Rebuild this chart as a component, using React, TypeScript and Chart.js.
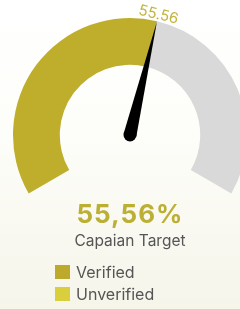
import React, { useEffect, useRef } from "react";
import { Chart, registerables } from "chart.js";

Chart.register(...registerables);

const gaugeValue = 55.56;
const gaugeMax = 100;
const arcLabels = ["Capaian", "Sisa"];
const arcValues = [gaugeValue, gaugeMax - gaugeValue];
const arcColors = ["#bfae2c", "#d9d9d9"];
const legendLabels = ["Verified", "Unverified"];
const legendColors = ["#bda92b", "#d9cf3c"];
const subtitle = "Capaian Target";

const FONT = "Inter, 'Noto Sans', sans-serif";

const needlePlugin = {
  id: "needle",
  afterDatasetsDraw(chart: any) {
    const meta = chart.getDatasetMeta(0);
    const arc: any = meta.data[0];
    if (!arc) return;
    const { x, y, outerRadius, endAngle } = arc.getProps(["x", "y", "outerRadius", "endAngle"], true);
    const ctx = chart.ctx;
    const a = endAngle;
    const len = outerRadius;
    const base = 6.5;
    ctx.save();
    ctx.fillStyle = "#000";
    ctx.beginPath();
    ctx.moveTo(x + Math.cos(a) * len, y + Math.sin(a) * len);
    ctx.lineTo(x + Math.cos(a + Math.PI / 2) * base, y + Math.sin(a + Math.PI / 2) * base);
    ctx.lineTo(x + Math.cos(a - Math.PI / 2) * base, y + Math.sin(a - Math.PI / 2) * base);
    ctx.closePath();
    ctx.fill();
    ctx.beginPath();
    ctx.arc(x, y, base, 0, Math.PI * 2);
    ctx.fill();
    // value label at needle tip
    const r = outerRadius + 2;
    ctx.translate(x + Math.cos(a) * r, y + Math.sin(a) * r);
    ctx.rotate(a + Math.PI / 2);
    ctx.font = `15px ${FONT}`;
    ctx.fillStyle = "#c2b43a";
    ctx.textAlign = "center";
    ctx.textBaseline = "alphabetic";
    ctx.fillText(String(gaugeValue), 0, 0);
    ctx.restore();
  },
};

export default function App() {
  const ref = useRef<HTMLCanvasElement>(null);
  useEffect(() => {
    if (!ref.current) return;
    const chart = new Chart(ref.current, {
      type: "doughnut",
      data: {
        labels: arcLabels,
        datasets: [
          {
            data: arcValues,
            backgroundColor: arcColors,
            borderWidth: 0,
          },
        ],
      },
      options: {
        responsive: false,
        animation: false,
        rotation: -120,
        circumference: 240,
        cutout: "60%",
        layout: { padding: { top: 18, bottom: 6.5, left: 13, right: 13 } },
        plugins: { legend: { display: false }, tooltip: { enabled: false } },
        events: [],
      },
      plugins: [needlePlugin],
    });
    return () => chart.destroy();
  }, []);

  const valueText = String(gaugeValue).replace(".", ",") + "%";

  return (
    <div
      style={{
        position: "absolute",
        left: 0,
        top: 0,
        width: 240,
        height: 309,
        overflow: "hidden",
        background: "linear-gradient(180deg, #ffffff 0%, #fdfdf9 45%, #f6f5ea 100%)",
        fontFamily: FONT,
      }}
    >
      <div style={{ position: "absolute", left: 0, top: 0, width: 260, height: 309 }}>
        <canvas
          ref={ref}
          width={260}
          height={200}
          style={{ position: "absolute", left: 0, top: 0, width: 260, height: 200 }}
        />
        <div
          style={{
            position: "absolute",
            left: 0,
            top: 201,
            width: 260,
            textAlign: "center",
            fontSize: 26,
            lineHeight: "26px",
            fontWeight: 700,
            letterSpacing: 1,
            color: "#bcb034",
          }}
        >
          {valueText}
        </div>
        <div
          style={{
            position: "absolute",
            left: 0,
            top: 233,
            width: 260,
            textAlign: "center",
            fontSize: 15.5,
            lineHeight: "15px",
            color: "#555555",
          }}
        >
          {subtitle}
        </div>
        {legendLabels.map((lab, i) => (
          <div
            key={lab}
            style={{ position: "absolute", left: 55, top: 264 + i * 22, height: 16, display: "flex", alignItems: "center" }}
          >
            <div style={{ width: 15, height: 14, background: legendColors[i], marginRight: 6 }} />
            <div style={{ fontSize: 16, lineHeight: "16px", color: "#555555" }}>{lab}</div>
          </div>
        ))}
      </div>
    </div>
  );
}
